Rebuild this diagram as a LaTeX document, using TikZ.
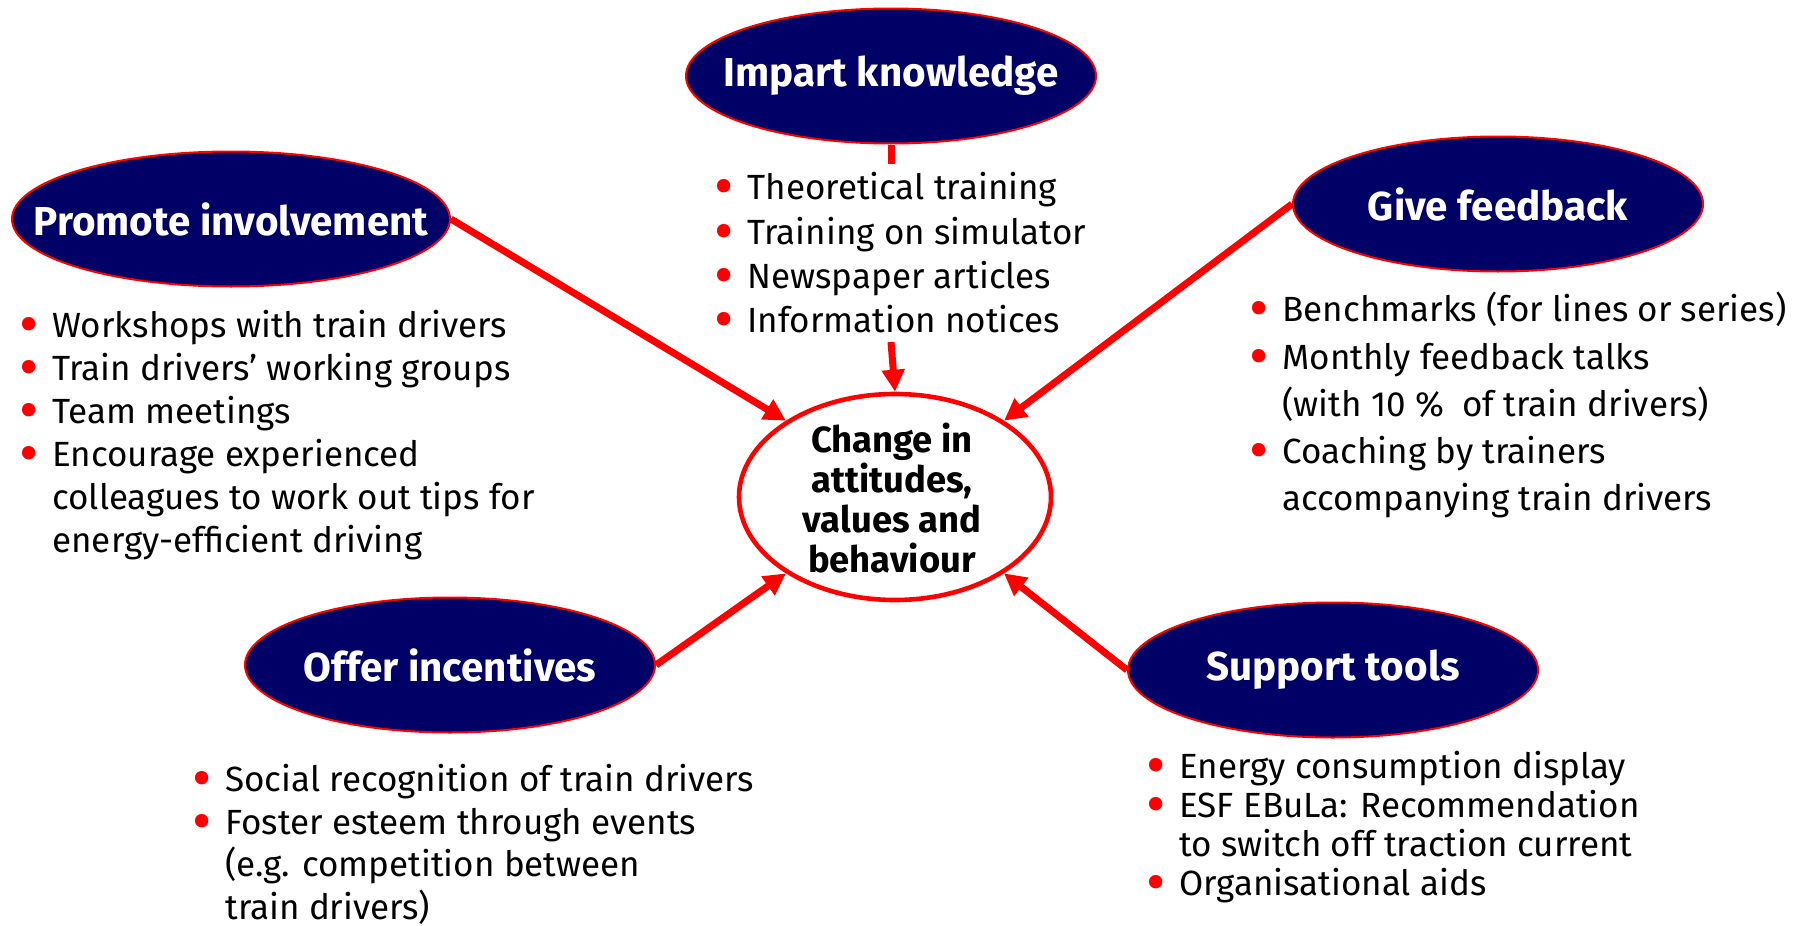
\documentclass[tikz,border=0pt]{standalone}
\usepackage{fontspec}
\setmainfont{Fira Sans}
\usetikzlibrary{shapes.geometric, arrows.meta}
\definecolor{navy}{RGB}{0,0,102}
\definecolor{bred}{RGB}{255,0,0}
\newcommand\myb{\makebox[16.5pt][l]{\smash{\textcolor{bred}{\raisebox{-0.2em}{\scalebox{1.7}{\textbullet}}}}}}
\newcommand\myi{\hspace*{16.5pt}}
\begin{document}
\begin{tikzpicture}[x=0.5pt,y=-0.5pt,
  topic/.style={ellipse, draw=bred, line width=1pt, fill=navy, text=white,
    font=\bfseries\fontsize{20.2}{23}\selectfont, inner sep=0pt,
    minimum width=205pt, minimum height=67.5pt},
  hub/.style={ellipse, draw=bred, line width=2.3pt, fill=white, inner sep=0pt,
    minimum width=156pt, minimum height=103pt},
  conn/.style={draw=bred, line width=3.5pt, -{Triangle[length=11pt,width=11pt]}},
  plain/.style={draw=bred, line width=3.5pt},
  list/.style={anchor=north west, inner sep=0pt, align=left}
]
\useasboundingbox (0,0) rectangle (1800,926);
\fill[white] (0,0) rectangle (1800,926);

% hub
\node[hub] (center) at (895,497) {};
\node[align=center, inner sep=0pt, font=\bfseries\fontsize{18.2}{20}\selectfont] (centertext) at (892,498)
  {Change in\\attitudes,\\values and\\behaviour};

% topics
\node[topic] (impart) at (891,76) {\makebox[0pt]{Impart knowledge}};
\node[topic, minimum width=219pt] (promote) at (231,219) {\makebox[0pt]{Promote involvement}};
\node[topic] (feedback) at (1498,204) {\makebox[0pt]{Give feedback}};
\node[topic] (offer) at (450,665) {\makebox[0pt]{Offer incentives}};
\node[topic] (support) at (1333,670) {\makebox[0pt]{Support tools}};

% connectors
\coordinate (ik1) at (891,164);
\coordinate (ik2) at (891,342);
\draw[plain] (impart.south) -- (ik1);
\draw[conn] (ik2) -- (center.north);
\draw[conn] (promote.east) -- (center.145);
\draw[conn] (feedback.west) -- (center.35);
\draw[conn] (offer.east) -- (center.215);
\draw[conn] (support.west) -- (center.325);

% lists
\node[list, font=\fontsize{17.5}{22.2}\selectfont] (implist) at (714,172)
  {\myb Theoretical training\\
   \myb Training on simulator\\
   \myb Newspaper articles\\
   \myb Information notices};

\node[list, font=\fontsize{17.5}{21.5}\selectfont] (prolist) at (19,310)
  {\myb Workshops with train drivers\\
   \myb Train drivers’ working groups\\
   \myb Team meetings\\
   \myb Encourage experienced\\
   \myi colleagues to work out tips for\\
   \myi energy-efficient driving};

\node[list, font=\fontsize{17.5}{23.6}\selectfont] (feedlist) at (1249,292)
  {\myb Benchmarks (for lines or series)\\
   \myb Monthly feedback talks\\
   \myi (with 10 \%\ \ of train drivers)\\
   \myb Coaching by trainers\\
   \myi accompanying train drivers};

\node[list, font=\fontsize{17.5}{21.3}\selectfont] (offlist) at (192,764)
  {\myb Social recognition of train drivers\\
   \myb Foster esteem through events\\
   \myi (e.g. competition between\\
   \myi train drivers)};

\node[list, font=\fontsize{17.5}{19.5}\selectfont] (suplist) at (1146,751)
  {\myb Energy consumption display\\
   \myb ESF EBuLa: Recommendation\\
   \myi to switch off traction current\\
   \myb Organisational aids};
\end{tikzpicture}
\end{document}
